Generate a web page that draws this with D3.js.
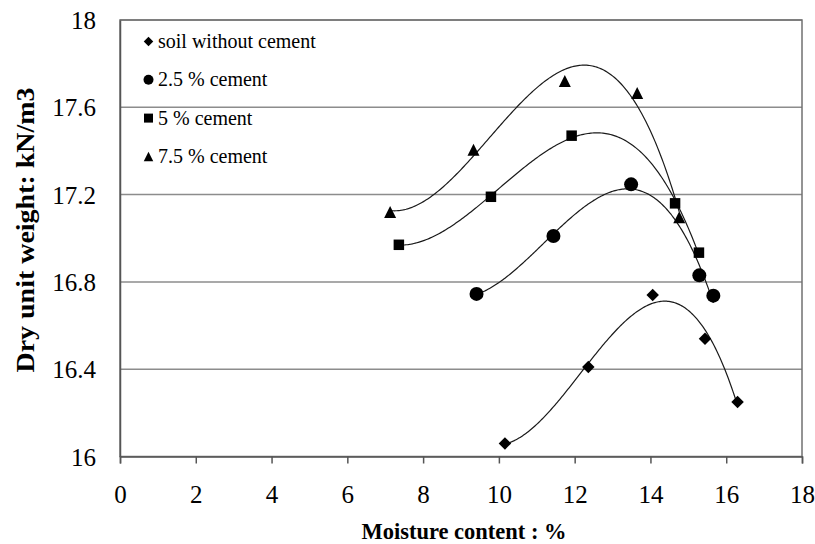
<!DOCTYPE html>
<html>
<head>
<meta charset="utf-8">
<script src="https://cdn.jsdelivr.net/npm/d3@7"></script>
<style>
  html, body { margin: 0; padding: 0; background: #fff; }
  svg { display: block; }
</style>
</head>
<body>
<svg id="chart" width="815" height="544"></svg>
<script>
// ---- data ----
const seriesNames = ["soil without cement", "2.5 % cement", "5 % cement", "7.5 % cement"];
const seriesSymbols = ["diamond", "circle", "square", "triangle"];
const soilX = [10.16, 12.36, 14.06, 15.44, 16.30];
const soilY = [16.06, 16.41, 16.74, 16.54, 16.25];
const c25X = [9.41, 11.44, 13.49, 15.29, 15.66];
const c25Y = [16.745, 17.01, 17.247, 16.83, 16.737];
const c5X = [7.36, 9.79, 11.92, 14.65, 15.28];
const c5Y = [16.97, 17.19, 17.47, 17.16, 16.934];
const c75X = [7.13, 9.33, 11.74, 13.65, 14.76];
const c75Y = [17.12, 17.405, 17.72, 17.665, 17.096];
const xTicks = [0, 2, 4, 6, 8, 10, 12, 14, 16, 18];
const yTicks = [16, 16.4, 16.8, 17.2, 17.6, 18];
const xTitle = "Moisture content : %";
const yTitle = "Dry unit weight: kN/m3";

const seriesX = [soilX, c25X, c5X, c75X];
const seriesY = [soilY, c25Y, c5Y, c75Y];

// ---- layout ----
const pL = 120, pR = 802, pT = 20, pB = 456.5;
const FONT = '"Liberation Serif"';
const svg = d3.select("#chart");
const x = d3.scaleLinear().domain([0, 18]).range([pL, pR]);
const y = d3.scaleLinear().domain([16, 18]).range([pB, pT]);

// gridlines
svg.append("g").selectAll("line").data(yTicks.filter(t => t > 16))
  .join("line")
  .attr("x1", pL).attr("x2", pR)
  .attr("y1", d => y(d)).attr("y2", d => y(d))
  .attr("stroke", "#8c8c8c").attr("stroke-width", 1.5);

// plot border
svg.append("rect").attr("x", pL).attr("y", pT)
  .attr("width", pR - pL).attr("height", pB - pT)
  .attr("fill", "none").attr("stroke", "#707070").attr("stroke-width", 1.5);

// x axis
const xAxis = d3.axisBottom(x).tickValues(xTicks).tickSize(7).tickFormat(d3.format("d"));
const gx = svg.append("g").attr("transform", `translate(0,${pB})`).call(xAxis)
  .attr("font-family", null).attr("font-size", null);
gx.select(".domain").attr("stroke", "#555").attr("stroke-width", 1.5);
gx.selectAll(".tick line").attr("stroke", "#555").attr("stroke-width", 1.5);
gx.selectAll(".tick text").style("font-family", FONT).style("font-size", "25px")
  .attr("y", 503 - pB).attr("dy", 0)
  .attr("fill", "#000");

// y axis
const yAxis = d3.axisLeft(y).tickValues(yTicks).tickSize(0).tickPadding(24)
  .tickFormat(d => String(+d.toFixed(1)));
const gy = svg.append("g").attr("transform", `translate(${pL},0)`).call(yAxis)
  .attr("font-family", null).attr("font-size", null);
gy.select(".domain").attr("stroke", "#555").attr("stroke-width", 1.5);
gy.selectAll(".tick text").style("font-family", FONT).style("font-size", "25px")
  .attr("fill", "#000").attr("dy", "0.34em");

// titles
svg.append("text").attr("x", 464).attr("y", 539).attr("text-anchor", "middle")
  .style("font-family", FONT).style("font-weight", "bold").style("font-size", "24px")
  .attr("textLength", 205).attr("lengthAdjust", "spacingAndGlyphs")
  .text(xTitle);
svg.append("text").attr("transform", "translate(34,230) rotate(-90)")
  .attr("text-anchor", "middle")
  .style("font-family", FONT).style("font-weight", "bold").style("font-size", "26px")
  .attr("textLength", 285).attr("lengthAdjust", "spacingAndGlyphs")
  .text(yTitle);

// cubic least-squares trendline
function cubicFit(xs, ys) {
  const n = 4, A = [];
  for (let i = 0; i < n; i++) {
    A.push([]);
    for (let j = 0; j < n; j++) A[i].push(d3.sum(xs, v => Math.pow(v, i + j)));
    A[i].push(d3.sum(xs, (v, k) => Math.pow(v, i) * ys[k]));
  }
  for (let c = 0; c < n; c++) {
    let p = c;
    for (let r = c + 1; r < n; r++) if (Math.abs(A[r][c]) > Math.abs(A[p][c])) p = r;
    [A[c], A[p]] = [A[p], A[c]];
    for (let r = 0; r < n; r++) {
      if (r === c) continue;
      const f = A[r][c] / A[c][c];
      for (let k = c; k <= n; k++) A[r][k] -= f * A[c][k];
    }
  }
  const coef = A.map((row, i) => row[n] / row[i]);
  return v => coef[0] + coef[1] * v + coef[2] * v * v + coef[3] * v * v * v;
}

const line = d3.line().x(d => x(d[0])).y(d => y(d[1])).curve(d3.curveLinear);
seriesX.forEach((xs, si) => {
  const f = cubicFit(xs, seriesY[si]);
  const x0 = d3.min(xs), x1 = d3.max(xs);
  const pts = d3.range(0, 201).map(i => { const v = x0 + (x1 - x0) * i / 200; return [v, f(v)]; });
  svg.append("path").attr("d", line(pts)).attr("fill", "none")
    .attr("stroke", "#1a1a1a").attr("stroke-width", 1.2);
});

// markers
function markerPath(type, s) {
  const h = s / 2;
  if (type === "diamond") return `M0,${-h}L${h},0L0,${h}L${-h},0Z`;
  if (type === "square") return `M${-h},${-h}H${h}V${h}H${-h}Z`;
  if (type === "triangle") return `M0,${-h}L${h},${h}L${-h},${h}Z`;
  return `M${h},0A${h},${h} 0 1,1 ${-h},0A${h},${h} 0 1,1 ${h},0Z`;
}
const markerSize = { diamond: 12.5, circle: 14, square: 10.5, triangle: 12 };
seriesX.forEach((xs, si) => {
  const type = seriesSymbols[si];
  svg.append("g").selectAll("path").data(xs.map((v, k) => [v, seriesY[si][k]]))
    .join("path")
    .attr("transform", d => `translate(${x(d[0])},${y(d[1])})`)
    .attr("d", markerPath(type, markerSize[type]))
    .attr("fill", "#000");
});

// legend
const legendSize = { diamond: 9.5, circle: 10, square: 9, triangle: 9.5 };
const lg = svg.append("g");
seriesNames.forEach((name, i) => {
  const cy = 41.5 + i * 38.3;
  const type = seriesSymbols[i];
  lg.append("path").attr("transform", `translate(148.5,${cy})`)
    .attr("d", markerPath(type, legendSize[type])).attr("fill", "#000");
  lg.append("text").attr("x", 158).attr("y", cy + 6.5)
    .style("font-family", FONT).style("font-size", "20px").attr("fill", "#000").text(name);
});
</script>
</body>
</html>
